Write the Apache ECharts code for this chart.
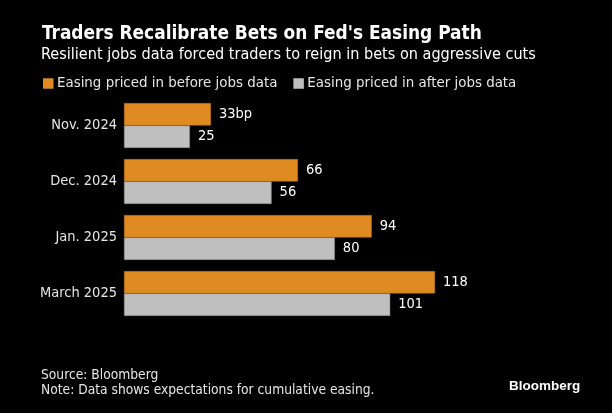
<!DOCTYPE html>
<html><head><meta charset="utf-8">
<script src="https://cdn.jsdelivr.net/npm/echarts@6/dist/echarts.min.js"></script>
<style>html,body{margin:0;padding:0;background:#000;}#c{width:612px;height:413px;}</style>
</head><body><div id="c"></div>
<script>
const categories = ['Nov. 2024', 'Dec. 2024', 'Jan. 2025', 'March 2025'];
const beforeJobs = [33, 66, 94, 118];
const afterJobs = [25, 56, 80, 101];
const seriesNames = ['Easing priced in before jobs data', 'Easing priced in after jobs data'];
const FONT = "'DejaVu Sans Condensed'";
const chart = echarts.init(document.getElementById('c'));
chart.setOption({
  backgroundColor: '#000',
  animation: false,
  textStyle: { fontFamily: FONT },
  title: [
    { text: "Traders Recalibrate Bets on Fed's Easing Path", left: 37, top: 20,
      textStyle: { color: '#fff', fontSize: 18.9, fontWeight: 'bold', fontFamily: FONT } },
    { text: 'Resilient jobs data forced traders to reign in bets on aggressive cuts', left: 36, top: 41.5,
      textStyle: { color: '#fff', fontSize: 16.1, fontWeight: 'normal', fontFamily: FONT } },
    { text: 'Source: Bloomberg\nNote: Data shows expectations for cumulative easing.', left: 36, top: 363,
      textStyle: { color: '#e6e6e6', fontSize: 13.7, fontWeight: 'normal', lineHeight: 15, fontFamily: FONT } },
    { text: 'Bloomberg', left: 504, top: 374,
      textStyle: { color: '#fff', fontSize: 13.5, fontWeight: 'bold', fontFamily: 'Liberation Sans' } }
  ],
  legend: {
    left: 38, top: 71, itemWidth: 10.5, itemHeight: 10.5, itemGap: 16,
    icon: 'rect',
    data: seriesNames,
    itemStyle: { borderWidth: 0 },
    textStyle: { color: '#e6e6e6', fontSize: 14.9, padding: [0, 0, 0, -1.5], fontFamily: FONT }
  },
  grid: { left: 124, top: 97.5, width: 369, height: 224, containLabel: false },
  xAxis: { type: 'value', min: 0, max: 140, show: false },
  yAxis: {
    type: 'category', data: categories, inverse: true,
    axisLine: { show: false }, axisTick: { show: false },
    axisLabel: { color: '#e6e6e6', fontSize: 14.5, margin: 7, fontFamily: FONT }
  },
  series: [
    { name: seriesNames[0], type: 'bar', data: beforeJobs, barGap: '0%', barCategoryGap: '20%',
      itemStyle: { color: '#e08a22', borderColor: '#b06a18', borderWidth: 0.5 },
      label: { show: true, position: 'right', color: '#fff', fontSize: 14.5, distance: 8, fontFamily: FONT,
        formatter: p => p.dataIndex === 0 ? p.value + 'bp' : p.value } },
    { name: seriesNames[1], type: 'bar', data: afterJobs,
      itemStyle: { color: '#bfbfbf', borderColor: '#8a8a8a', borderWidth: 0.5 },
      label: { show: true, position: 'right', color: '#fff', fontSize: 14.5, distance: 8, fontFamily: FONT } }
  ]
});
</script></body></html>
